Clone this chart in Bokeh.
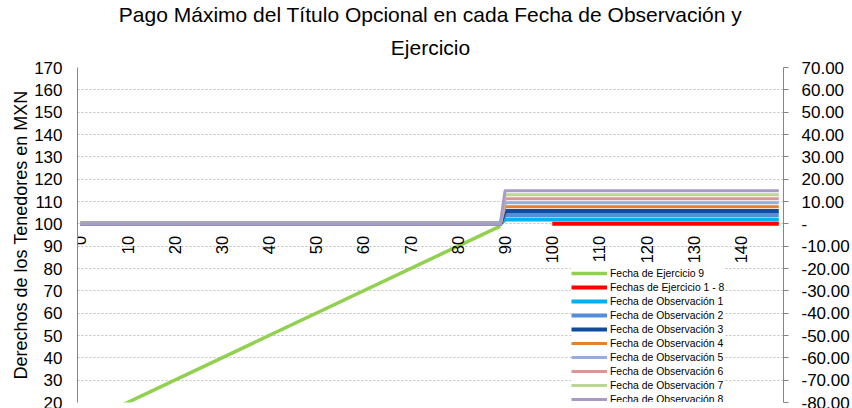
import math
from bokeh.plotting import figure
from bokeh.models import (Range1d, LinearAxis, FixedTicker, CustomJSTickFormatter,
                          Legend, LegendItem, Title, ColumnDataSource)
from bokeh.core.properties import value
from bokeh.embed import file_html
from bokeh.resources import INLINE

FONT = "Liberation Sans"

# ---------------- data ----------------
title_line1 = "Pago Máximo del Título Opcional en cada Fecha de Observación y"
title_line2 = "Ejercicio"
y_label = "Derechos de los Tenedores en MXN"

x_ticks = [0, 10, 20, 30, 40, 50, 60, 70, 80, 90, 100, 110, 120, 130, 140]
x_tick_labels = ["0", "10", "20", "30", "40", "50", "60", "70", "80", "90",
                 "100", "110", "120", "130", "140"]
y_ticks = [20, 30, 40, 50, 60, 70, 80, 90, 100, 110, 120, 130, 140, 150, 160, 170]
y2_ticks = [-80, -70, -60, -50, -40, -30, -20, -10, 0, 10, 20, 30, 40, 50, 60, 70]

ej9_x = [0, 89]
ej9_y = [10, 99]

ej18_x = [100, 148]
ej18_y = [100, 100]

obs_x = [0, 89, 90, 148]
obs1_y = [100, 100, 101.9, 101.9]
obs2_y = [100, 100, 104.0, 104.0]
obs3_y = [100, 100, 105.8, 105.8]
obs4_y = [100, 100, 107.7, 107.7]
obs5_y = [100, 100, 109.4, 109.4]
obs6_y = [100, 100, 111.2, 111.2]
obs7_y = [100, 100, 113.0, 113.0]
obs8_y = [100, 100, 114.8, 114.8]

series = [
    ("Fecha de Ejercicio 9", ej9_x, ej9_y, "#92D050", 3.5),
    ("Fechas de Ejercicio 1 - 8", ej18_x, ej18_y, "#FF0000", 4),
    ("Fecha de Observación 1", obs_x, obs1_y, "#00B0F0", 4),
    ("Fecha de Observación 2", obs_x, obs2_y, "#558ED5", 4),
    ("Fecha de Observación 3", obs_x, obs3_y, "#0F4C9E", 4),
    ("Fecha de Observación 4", obs_x, obs4_y, "#E4812F", 3),
    ("Fecha de Observación 5", obs_x, obs5_y, "#95AED6", 3),
    ("Fecha de Observación 6", obs_x, obs6_y, "#D99694", 3),
    ("Fecha de Observación 7", obs_x, obs7_y, "#BCD595", 3),
    ("Fecha de Observación 8", obs_x, obs8_y, "#A89BC9", 3),
]

# ---------------- figure ----------------
p = figure(width=852, height=408, output_backend="svg", toolbar_location=None,
           x_range=Range1d(-0.6, 149.0), y_range=Range1d(20, 170),
           min_border_left=77, min_border_right=69, min_border_top=67,
           min_border_bottom=6)
p.outline_line_color = None
p.background_fill_color = "white"
p.border_fill_color = "white"

t2 = Title(text=title_line2, align="center", text_font=FONT,
           text_font_size="21px", text_font_style="normal",
           text_color="#000000", standoff=17)
t1 = Title(text=title_line1, align="center", text_font=FONT,
           text_font_size="21px", text_font_style="normal",
           text_color="#000000", standoff=0)
p.add_layout(t2, "above")
p.add_layout(t1, "above")

p.xaxis.visible = False
p.xgrid.visible = False

yax = p.yaxis[0]
yax.ticker = FixedTicker(ticks=y_ticks)
yax.axis_line_color = "#868686"
yax.major_tick_line_color = None
yax.minor_tick_line_color = None
yax.major_tick_out = 0
yax.major_tick_in = 0
yax.major_label_standoff = 15
yax.major_label_text_font = FONT
yax.major_label_text_font_size = "17px"
yax.major_label_text_color = "#000000"
yax.axis_label = y_label
yax.axis_label_text_font = FONT
yax.axis_label_text_font_size = "18px"
yax.axis_label_text_font_style = "normal"
yax.axis_label_text_color = "#000000"
yax.axis_label_standoff = 0

p.ygrid.ticker = FixedTicker(ticks=y_ticks)
p.ygrid.grid_line_color = "#BFBFBF"
p.ygrid.grid_line_dash = "2 2"
p.ygrid.grid_line_width = 1

p.extra_y_ranges = {"right": Range1d(-80, 70)}
rax = LinearAxis(y_range_name="right")
rax.ticker = FixedTicker(ticks=y2_ticks)
rax.formatter = CustomJSTickFormatter(code="return tick == 0 ? '-' : tick.toFixed(2);")
rax.axis_line_color = "#868686"
rax.major_tick_line_color = "#868686"
rax.major_tick_out = 5
rax.major_tick_in = 0
rax.minor_tick_line_color = None
rax.major_label_standoff = 13
rax.major_label_text_font = FONT
rax.major_label_text_font_size = "17px"
rax.major_label_text_color = "#000000"
p.add_layout(rax, "right")

items = []
for name, xs, ys, color, w in series:
    r = p.line(xs, ys, line_color=color, line_width=w, line_join="round")
    items.append(LegendItem(label=name, renderers=[r]))

# category labels placed at the axis crossing (y = 100)
src = ColumnDataSource(dict(x=x_ticks, y=[100] * len(x_ticks), t=x_tick_labels))
p.text(x="x", y="y", text="t", source=src, angle=math.pi / 2,
       text_align="right", text_baseline="middle", y_offset=12,
       text_font=value(FONT), text_font_size=value("16.5px"), text_color="#000000")

legend = Legend(items=items, location=(494, -3), orientation="vertical",
                label_text_font=FONT, label_text_font_size="10.4px",
                label_text_color="#000000",
                glyph_width=36, glyph_height=12, label_height=12, spacing=2,
                label_standoff=3, padding=1, margin=0,
                border_line_color=None, background_fill_color="white",
                background_fill_alpha=1.0)
p.add_layout(legend, "center")

open("out.html", "w").write(file_html(p, INLINE))
